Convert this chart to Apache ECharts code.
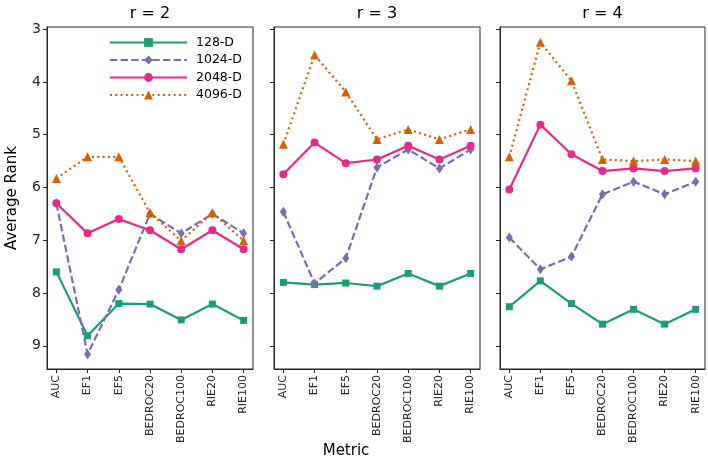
<!DOCTYPE html>
<html>
<head>
<meta charset="utf-8">
<script src="https://cdn.jsdelivr.net/npm/echarts@6/dist/echarts.min.js"></script>
<style>html,body{margin:0;padding:0;background:#fff}#c{width:708px;height:461px}</style>
</head>
<body>
<div id="c"></div>
<script>
var metrics = ['AUC', 'EF1', 'EF5', 'BEDROC20', 'BEDROC100', 'RIE20', 'RIE100'];
var panelTitles = ['r = 2', 'r = 3', 'r = 4'];
var seriesNames = ['128-D', '1024-D', '2048-D', '4096-D'];
var yTicks = [3, 4, 5, 6, 7, 8, 9];

// r = 2
var r2_128  = [7.60, 8.81, 8.20, 8.21, 8.51, 8.21, 8.52];
var r2_1024 = [6.30, 9.16, 7.94, 6.50, 6.87, 6.50, 6.87];
var r2_2048 = [6.30, 6.87, 6.60, 6.81, 7.17, 6.81, 7.17];
var r2_4096 = [5.83, 5.42, 5.42, 6.48, 7.01, 6.48, 7.01];
// r = 3
var r3_128  = [7.80, 7.84, 7.81, 7.87, 7.63, 7.87, 7.63];
var r3_1024 = [6.46, 7.82, 7.34, 5.62, 5.28, 5.64, 5.28];
var r3_2048 = [5.75, 5.15, 5.54, 5.47, 5.21, 5.47, 5.21];
var r3_4096 = [5.18, 3.49, 4.19, 5.09, 4.90, 5.09, 4.90];
// r = 4
var r4_128  = [8.26, 7.77, 8.20, 8.59, 8.31, 8.59, 8.31];
var r4_1024 = [6.95, 7.55, 7.31, 6.13, 5.89, 6.13, 5.89];
var r4_2048 = [6.04, 4.81, 5.37, 5.69, 5.64, 5.69, 5.64];
var r4_4096 = [5.42, 3.25, 3.98, 5.47, 5.50, 5.47, 5.50];

var panels = [
  [r2_128, r2_1024, r2_2048, r2_4096],
  [r3_128, r3_1024, r3_2048, r3_4096],
  [r4_128, r4_1024, r4_2048, r4_4096]
];

var FONT = 'DejaVu Sans';
var colors = ['#1b9e77', '#7570b3', '#e7298a', '#d95f02'];
var styles = [
  {symbol: 'rect', symbolSize: 7, lineType: 'solid'},
  {symbol: 'diamond', symbolSize: [7, 10], lineType: [7.4, 3.2]},
  {symbol: 'circle', symbolSize: 8, lineType: 'solid'},
  {symbol: 'triangle', symbolSize: 9, lineType: [2, 3.3]}
];
var gridLefts = [47, 274, 500];
var gridWidths = [206, 206, 205];
var gridTop = 27, gridHeight = 342;
var axisColor = '#262626';
var xIdx = metrics.map(function (m, i) { return i; });

var grids = [], xAxes = [], yAxes = [], series = [], graphics = [];
for (var p = 0; p < 3; p++) {
  grids.push({left: gridLefts[p], top: gridTop, width: gridWidths[p], height: gridHeight,
    show: true, borderColor: axisColor, borderWidth: 1, backgroundColor: 'transparent', containLabel: false});
  xAxes.push({
    type: 'value', gridIndex: p, min: -0.3, max: 6.3,
    splitLine: {show: false},
    axisLine: {show: true, onZero: false, lineStyle: {color: axisColor, width: 1}},
    axisTick: {show: true, customValues: xIdx, length: 4, lineStyle: {color: axisColor}},
    axisLabel: {show: true, customValues: xIdx, rotate: 90, margin: 6,
      fontFamily: FONT, fontSize: 11, color: '#262626',
      formatter: function (v) { return metrics[Math.round(v)]; }}
  });
  yAxes.push({
    type: 'value', gridIndex: p, inverse: true, min: 2.96, max: 9.44,
    splitLine: {show: false},
    axisLine: {show: true, onZero: false, lineStyle: {color: axisColor, width: 1}},
    axisTick: {show: true, customValues: yTicks, length: 4, lineStyle: {color: axisColor}},
    axisLabel: {show: p === 0, customValues: yTicks, margin: 6,
      fontFamily: FONT, fontSize: 14, color: '#262626'}
  });
  for (var s = 0; s < 4; s++) {
    var vals = panels[p][s];
    series.push({
      name: seriesNames[s], type: 'line', xAxisIndex: p, yAxisIndex: p,
      data: vals.map(function (v, i) { return [i, v]; }),
      symbol: styles[s].symbol, symbolSize: styles[s].symbolSize,
      showAllSymbol: true,
      lineStyle: {color: colors[s], width: 2.2, type: styles[s].lineType},
      itemStyle: {color: colors[s]},
      emphasis: {disabled: true},
      animation: false, z: 2 + s
    });
  }
  graphics.push({type: 'text', x: gridLefts[p] + gridWidths[p] / 2, y: 14,
    style: {text: panelTitles[p], fontFamily: FONT, fontSize: 16, fill: '#000',
      textAlign: 'center', textVerticalAlign: 'middle'}});
}
graphics.push({type: 'text', x: 12, y: 198, rotation: Math.PI / 2,
  style: {text: 'Average Rank', fontFamily: FONT, fontSize: 15, fill: '#000',
    textAlign: 'center', textVerticalAlign: 'middle'}});
graphics.push({type: 'text', x: 346, y: 451,
  style: {text: 'Metric', fontFamily: FONT, fontSize: 15, fill: '#000',
    textAlign: 'center', textVerticalAlign: 'middle'}});

var chart = echarts.init(document.getElementById('c'), null, {renderer: 'canvas'});
chart.setOption({
  animation: false,
  backgroundColor: '#fff',
  grid: grids, xAxis: xAxes, yAxis: yAxes, series: series,
  legend: {
    data: seriesNames, orient: 'vertical', left: 109, top: 36, padding: 0,
    itemWidth: 77, itemHeight: 11, itemGap: 4.5,
    textStyle: {fontFamily: FONT, fontSize: 12.5, color: '#000', padding: [0, 0, 0, 4]},
    selectedMode: false
  },
  graphic: graphics
});
</script>
</body>
</html>
